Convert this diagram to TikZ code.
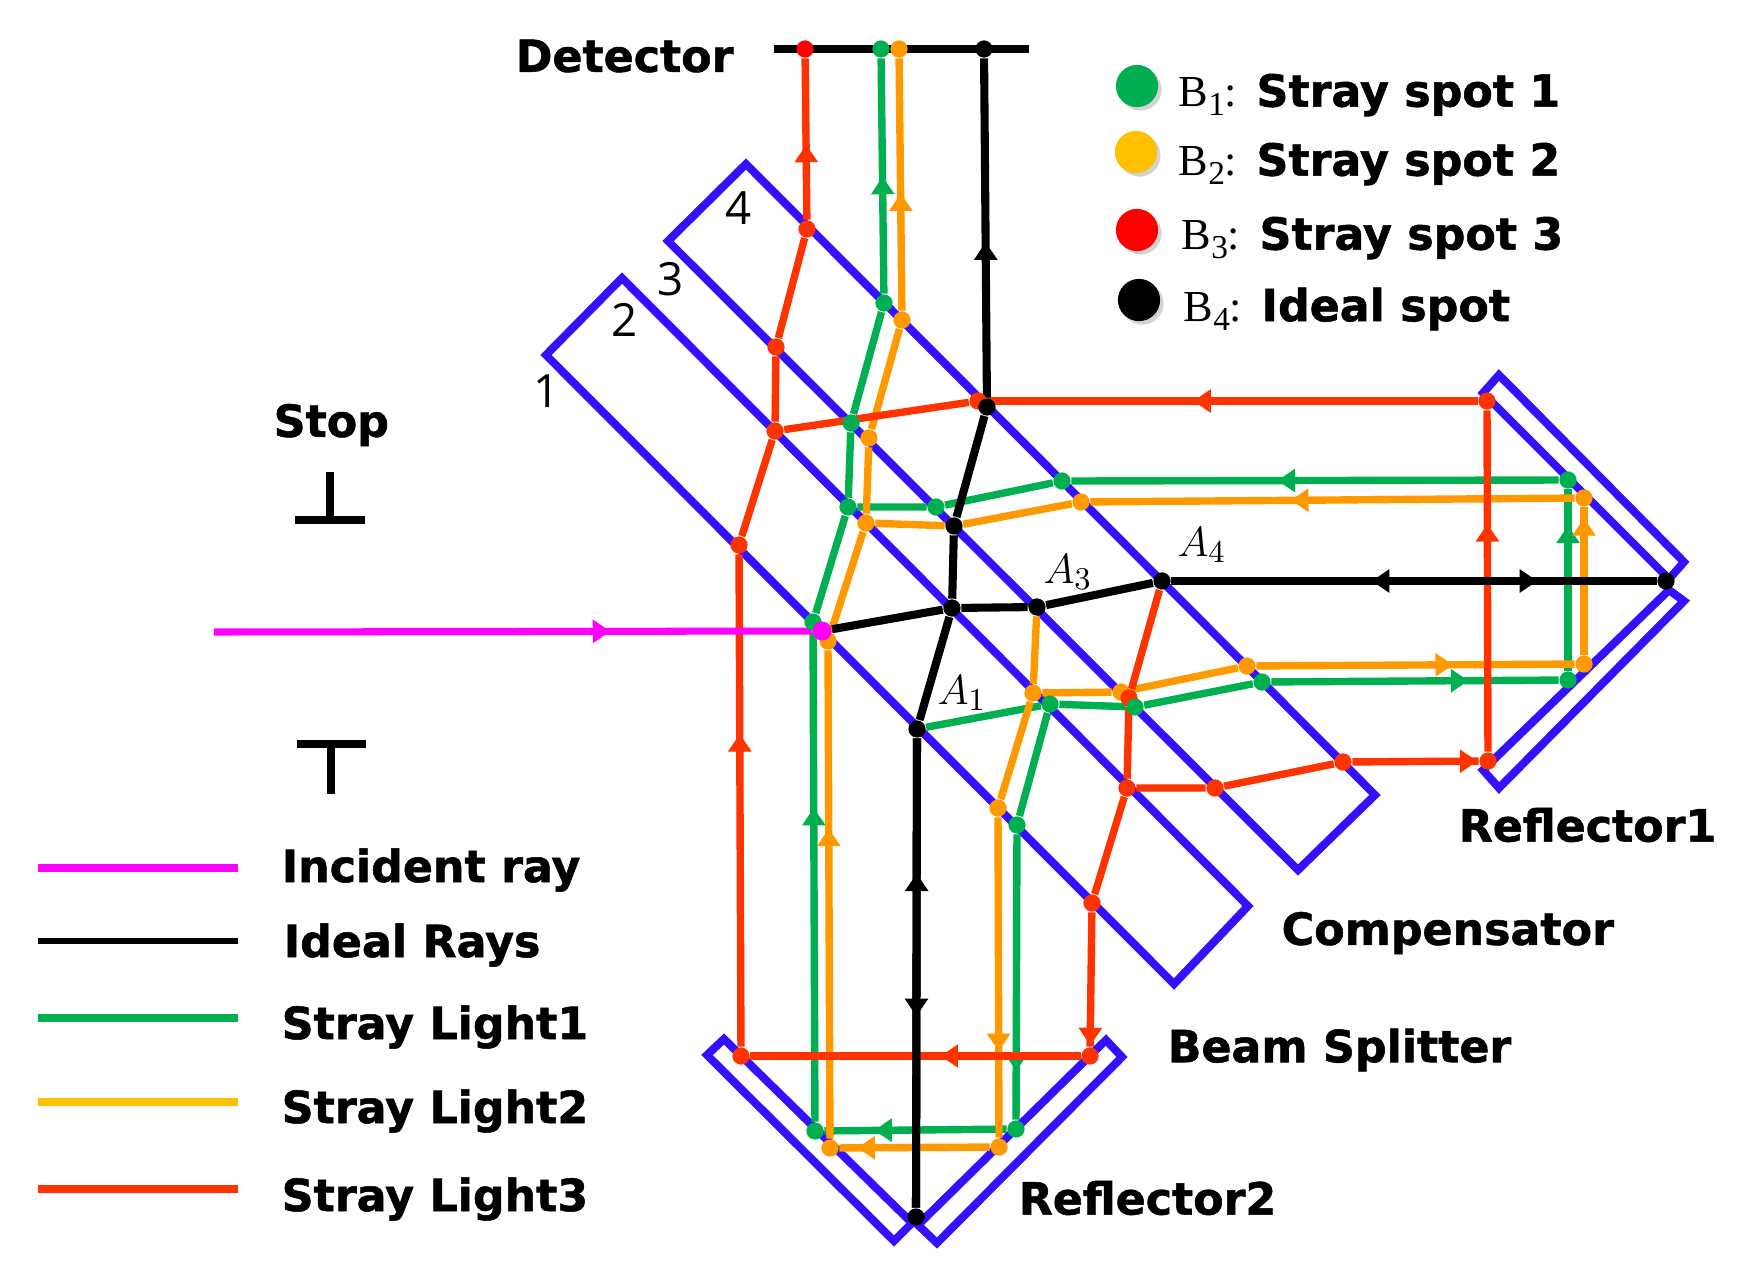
\documentclass[tikz,border=0pt]{standalone}
\usepackage{fontspec}
\setsansfont{DejaVu Sans}[BoldFeatures={FakeBold=1.2}]
\newfontfamily\platefont{Open Sans}
\newfontfamily\keyserif{Liberation Serif}
\usepackage{tikz}
\usetikzlibrary{arrows.meta,decorations.markings,shadows}
\pgfdeclarelayer{rays}
\pgfsetlayers{rays,main}
\definecolor{plateblue}{HTML}{3311FF}
\definecolor{rayred}{HTML}{FF3300}
\definecolor{raygreen}{HTML}{00B050}
\definecolor{rayorange}{HTML}{FF9900}
\definecolor{keyorange}{HTML}{FFC000}
\definecolor{raymagenta}{HTML}{FF00FF}
\newcommand{\keyB}[1]{{\keyserif B\raisebox{-2.5pt}{\fontsize{9.5}{10}\selectfont #1}:}}
\tikzset{
    plate/.style={draw=plateblue,line width=2.3pt,miter limit=10},
    incident/.style={draw=raymagenta,line width=2pt},
    idealray/.style={draw=black,line width=2.3pt},
    strayone/.style={draw=raygreen,line width=2.1pt},
    straytwo/.style={draw=rayorange,line width=2.1pt},
    straythree/.style={draw=rayred,line width=2.1pt},
    spot/.style={circle,inner sep=0pt,minimum size=4.9pt},
    spotone/.style={spot,fill=raygreen},
    spottwo/.style={spot,fill=rayorange},
    spotthree/.style={spot,fill=rayred},
    spotideal/.style={spot,fill=black},
    keyspot/.style={circle,inner sep=0pt,minimum size=12pt,drop shadow={shadow xshift=1pt,shadow yshift=-1pt,opacity=0.35}},
    raymark/.style={postaction={decorate},decoration={markings,mark=at position #1 with {\arrow{Triangle[length=5pt,width=6.4pt]}}}},
    partlabel/.style={font=\sffamily\bfseries\fontsize{12.6}{14}\selectfont,anchor=west,inner sep=0pt},
    keytext/.style={font=\fontsize{12.6}{15}\selectfont,anchor=west,inner sep=0pt},
    platenum/.style={font=\platefont\fontsize{13}{15}\selectfont,inner sep=0pt},
    pointlabel/.style={font=\fontsize{13}{14}\selectfont,inner sep=0pt}
}
\begin{document}
\begin{tikzpicture}[x=0.01cm,y=-0.01cm]
    \useasboundingbox (0,0) rectangle (1750,1275);

    % orange spots
    \node[spottwo] (o1) at (1033,693) {};
    \node[spottwo] (o2) at (1121,692) {};
    \node[spottwo] (o3) at (1247,666) {};
    \node[spottwo] (o4) at (1584,664) {};
    \node[spottwo] (o5) at (1584,498) {};
    \node[spottwo] (o6) at (1081,502) {};
    \node[spottwo] (o7) at (866,523) {};
    \node[spottwo] (o8) at (828,641) {};
    \node[spottwo] (o9) at (830,1148) {};
    \node[spottwo] (o10) at (999,1147) {};
    \node[spottwo] (o11) at (998,808) {};
    \node[spottwo] (o12) at (869,438) {};
    \node[spottwo] (o13) at (902,320) {};
    \node[spottwo] (o14) at (899,49) {};
    % red spots
    \node[spotthree] (r1) at (1129,698) {};
    \node[spotthree] (r2) at (1127,788) {};
    \node[spotthree] (r3) at (1215,788) {};
    \node[spotthree] (r4) at (1343,762) {};
    \node[spotthree] (r5) at (1488,761) {};
    \node[spotthree] (r6) at (1487,401) {};
    \node[spotthree] (r7) at (978,401) {};
    \node[spotthree] (r8) at (775,431) {};
    \node[spotthree] (r9) at (739,545) {};
    \node[spotthree] (r10) at (741,1056) {};
    \node[spotthree] (r11) at (1090,1056) {};
    \node[spotthree] (r12) at (1092,903) {};
    \node[spotthree] (r13) at (776,347) {};
    \node[spotthree] (r14) at (807,229) {};
    \node[spotthree,fill=red] (r15) at (805,49) {};
    % green spots
    \node[spotone] (g1) at (1050,704) {};
    \node[spotone] (g2) at (1135,707) {};
    \node[spotone] (g3) at (1262,682) {};
    \node[spotone] (g4) at (1568,680) {};
    \node[spotone] (g5) at (1568,480) {};
    \node[spotone] (g6) at (1062,481) {};
    \node[spotone] (g7) at (936,507) {};
    \node[spotone] (g8) at (848,507) {};
    \node[spotone] (g9) at (813,622) {};
    \node[spotone] (g10) at (815,1131) {};
    \node[spotone] (g11) at (1016,1129) {};
    \node[spotone] (g12) at (1017,825) {};
    \node[spotone] (g13) at (851,423) {};
    \node[spotone] (g14) at (884,303) {};
    \node[spotone] (g15) at (881,49) {};
    % black spots
    \node[spotideal] (a1) at (917,729) {};
    \node[spotideal] (a2) at (952,608) {};
    \node[spotideal] (a3) at (1037,607) {};
    \node[spotideal] (a4) at (1162,581) {};
    \node[spotideal] (k1) at (1666,581) {};
    \node[spotideal] (k2) at (916,1217) {};
    \node[spotideal] (k3) at (954,526) {};
    \node[spotideal] (k4) at (987,407) {};
    \node[spotideal] (k5) at (984,49) {};
    \node[spot,fill=raymagenta,minimum size=5.4pt] (m1) at (822,631) {};
    \coordinate (m0) at (214,632);
    \coordinate (dl) at (774,49);
    \coordinate (dr) at (1029,49);

    \begin{pgfonlayer}{rays}
    % plates and mirrors
    \draw[plate] (546,355) -- (622,278) -- (1248,906) -- (1174,984) -- cycle;
    \draw[plate] (668,241) -- (746,164) -- (1375,795) -- (1298,870) -- cycle;
    \draw[plate] (1483,393) -- (1499,375) -- (1684,562) -- (1669,579) -- cycle;
    \draw[plate] (1669,590) -- (1684,601) -- (1499,788) -- (1483,770) -- cycle;
    \draw[plate] (724,1039) -- (707,1055) -- (894,1241) -- (912,1223) -- cycle;
    \draw[plate] (1106,1040) -- (1122,1057) -- (937,1243) -- (918,1225) -- cycle;
    \draw[idealray] (dl) -- (dr);
    % green path
    \draw[strayone] (a1) -- (g1) -- (g2) -- (g3);
    \draw[strayone,raymark=.686] (g3) -- (g4);
    \draw[strayone,raymark=.80] (g4) -- (g5);
    \draw[strayone,raymark=.577] (g5) -- (g6);
    \draw[strayone] (g6) -- (g7) -- (g8) -- (g9);
    \draw[strayone,raymark=.64] (g10) -- (g9);
    \draw[strayone,raymark=.726] (g11) -- (g10);
    \draw[strayone,raymark=.83] (g12) -- (g11);
    \draw[strayone] (g1) -- (g12);
    \draw[strayone] (g8) -- (g13) -- (g14);
    \draw[strayone,raymark=.497] (g14) -- (g15);
    % orange path
    \draw[straytwo] (a3) -- (o1) -- (o2) -- (o3);
    \draw[straytwo,raymark=.618] (o3) -- (o4);
    \draw[straytwo,raymark=.927] (o4) -- (o5);
    \draw[straytwo,raymark=.586] (o5) -- (o6);
    \draw[straytwo] (o6) -- (k3) -- (o7) -- (o8);
    \draw[straytwo,raymark=.635] (o9) -- (o8);
    \draw[straytwo,raymark=.88] (o10) -- (o9);
    \draw[straytwo,raymark=.73] (o11) -- (o10);
    \draw[straytwo] (o1) -- (o11);
    \draw[straytwo] (o7) -- (o12) -- (o13);
    \draw[straytwo,raymark=.465] (o13) -- (o14);
    % red path
    \draw[straythree] (a4) -- (r1) -- (r2) -- (r3) -- (r4);
    \draw[straythree,raymark=.99] (r4) -- (r5);
    \draw[straythree,raymark=.667] (r5) -- (r6);
    \draw[straythree,raymark=.58] (r6) -- (r7);
    \draw[straythree] (r7) -- (r8) -- (r9);
    \draw[straythree,raymark=.635] (r10) -- (r9);
    \draw[straythree,raymark=.424] (r11) -- (r10);
    \draw[straythree,raymark=.99] (r12) -- (r11);
    \draw[straythree] (r2) -- (r12);
    \draw[straythree] (r8) -- (r13) -- (r14);
    \draw[straythree,raymark=.465] (r14) -- (r15);
    % ideal path
    \draw[idealray] (m1) -- (a2) -- (a3) -- (a4);
    \draw[idealray,raymark=.754] (a4) -- (k1);
    \draw[idealray,raymark=.587] (k1) -- (a4);
    \draw[idealray] (a2) -- (a1);
    \draw[idealray,raymark=.592] (a1) -- (k2);
    \draw[idealray,raymark=.712] (k2) -- (a1);
    \draw[idealray] (a2) -- (k3) -- (k4);
    \draw[idealray,raymark=.458] (k4) -- (k5);
    \draw[incident,raymark=.663] (m0) -- (m1);
    \end{pgfonlayer}

    % stop
    \draw[idealray] (330,472) -- (330,520) (295,520) -- (365,520);
    \draw[idealray] (297,744) -- (366,744) (331,744) -- (331,794);

    % labels on the picture
    \node[platenum] (n1) at (547,391) {1};
    \node[platenum] (n2) at (625,320) {2};
    \node[platenum] (n3) at (671,279) {3};
    \node[platenum] (n4) at (739,208) {4};
    \node[pointlabel] (la1) at (962,693) {$A_1$};
    \node[pointlabel] (la3) at (1068,572) {$A_3$};
    \node[pointlabel] (la4) at (1202,545) {$A_4$};
    \node[partlabel] (detector) at (515,56) {Detector};
    \node[partlabel] (stop) at (273,425) {Stop};
    \node[partlabel] (reflone) at (1458,825) {Reflector1};
    \node[partlabel] (compensator) at (1281,933) {Compensator};
    \node[partlabel] (splitter) at (1167,1050) {Beam Splitter};
    \node[partlabel] (refltwo) at (1018,1198) {Reflector2};

    % spot key
    \node[keyspot,fill=raygreen] (key1) at (1137,86) {};
    \node[keyspot,fill=keyorange] (key2) at (1136,152) {};
    \node[keyspot,fill=red] (key3) at (1137,230) {};
    \node[keyspot,fill=black] (key4) at (1139,300) {};
    \node[keytext] (txt1) at (1178,95) {\keyB{1} \sffamily\bfseries Stray spot 1};
    \node[keytext] (txt2) at (1178,164) {\keyB{2} \sffamily\bfseries Stray spot 2};
    \node[keytext] (txt3) at (1181,238) {\keyB{3} \sffamily\bfseries Stray spot 3};
    \node[keytext] (txt4) at (1183,309) {\keyB{4} \sffamily\bfseries Ideal spot};

    % ray key
    \coordinate (l1a) at (38,868);
    \coordinate (l1b) at (238,868);
    \coordinate (l2a) at (38,941);
    \coordinate (l2b) at (238,941);
    \coordinate (l3a) at (38,1018);
    \coordinate (l3b) at (238,1018);
    \coordinate (l4a) at (38,1102);
    \coordinate (l4b) at (238,1102);
    \coordinate (l5a) at (38,1189);
    \coordinate (l5b) at (238,1189);
    \draw[incident] (l1a) -- (l1b);
    \draw[idealray,line width=1.9pt] (l2a) -- (l2b);
    \draw[strayone] (l3a) -- (l3b);
    \draw[straytwo,draw=keyorange] (l4a) -- (l4b);
    \draw[straythree] (l5a) -- (l5b);
    \node[partlabel] (lab1) at (281,870) {Incident ray};
    \node[partlabel] (lab2) at (283,945) {Ideal Rays};
    \node[partlabel] (lab3) at (281,1027) {Stray Light1};
    \node[partlabel] (lab4) at (281,1111) {Stray Light2};
    \node[partlabel] (lab5) at (281,1199) {Stray Light3};
\end{tikzpicture}
\end{document}
